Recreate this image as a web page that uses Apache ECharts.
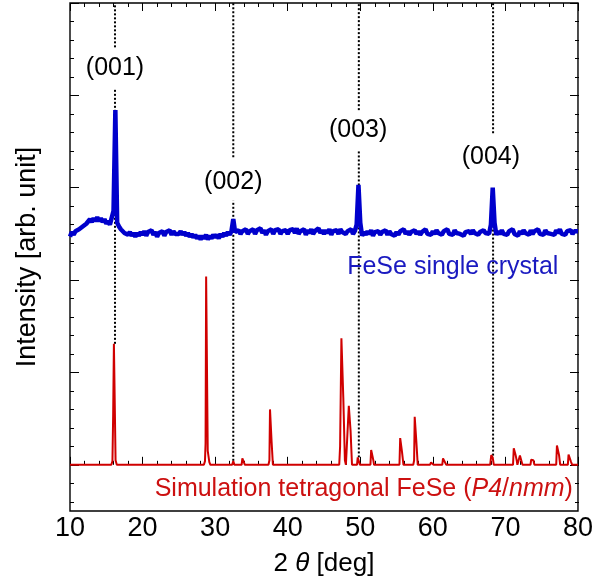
<!DOCTYPE html>
<html>
<head>
<meta charset="utf-8">
<script src="https://cdn.jsdelivr.net/npm/echarts@6/dist/echarts.min.js"></script>
<style>
  html, body { margin: 0; padding: 0; background: #fff; }
  #chart { width: 596px; height: 583px; }
</style>
</head>
<body>
<div id="chart"></div>
<script>
// measured XRD scan, FeSe single crystal (offset up), 0.25 deg steps from 10 deg
var blueStart = 10;
var blueStep = 0.25;
var blueIntensity = [
  2.47,2.52,2.49,2.53,2.51,2.55,2.54,2.58,2.57,2.61,2.62,2.66,2.63,2.67,2.64,2.68,2.64,2.67,2.63,2.66,
  2.61,2.64,2.60,2.62,2.75,3.84,2.62,2.58,2.55,2.56,2.51,2.53,2.49,2.52,2.48,2.51,2.47,2.51,2.48,2.52,
  2.49,2.53,2.48,2.52,2.50,2.54,2.49,2.52,2.47,2.51,2.50,2.53,2.48,2.52,2.51,2.54,2.49,2.53,2.50,2.52,
  2.50,2.53,2.49,2.52,2.48,2.51,2.47,2.50,2.46,2.49,2.45,2.48,2.44,2.48,2.45,2.49,2.44,2.48,2.45,2.49,
  2.46,2.49,2.45,2.50,2.47,2.51,2.48,2.52,2.49,2.53,2.66,2.52,2.50,2.54,2.50,2.53,2.51,2.55,2.50,2.53,
  2.51,2.55,2.50,2.54,2.52,2.56,2.51,2.54,2.49,2.53,2.51,2.55,2.50,2.54,2.52,2.55,2.50,2.53,2.51,2.54,
  2.50,2.54,2.52,2.55,2.51,2.56,2.50,2.53,2.52,2.55,2.49,2.54,2.51,2.55,2.50,2.53,2.52,2.56,2.51,2.54,
  2.50,2.54,2.51,2.55,2.49,2.53,2.51,2.54,2.50,2.55,2.52,2.54,2.50,2.53,2.51,2.55,2.50,2.53,2.60,3.03,
  2.62,2.48,2.52,2.49,2.53,2.50,2.54,2.48,2.52,2.50,2.53,2.49,2.52,2.51,2.54,2.49,2.53,2.50,2.52,2.48,
  2.52,2.49,2.53,2.51,2.55,2.50,2.53,2.49,2.52,2.51,2.54,2.50,2.53,2.49,2.52,2.51,2.55,2.50,2.52,2.49,
  2.53,2.50,2.54,2.51,2.52,2.49,2.53,2.51,2.55,2.50,2.52,2.49,2.54,2.51,2.53,2.50,2.52,2.48,2.52,2.50,
  2.53,2.50,2.54,2.51,2.53,2.49,2.52,2.50,2.54,2.51,2.53,2.50,2.60,3.00,2.62,2.49,2.53,2.50,2.54,2.50,
  2.52,2.49,2.53,2.51,2.55,2.50,2.52,2.48,2.53,2.50,2.54,2.51,2.52,2.49,2.54,2.50,2.53,2.51,2.55,2.50,
  2.52,2.49,2.54,2.51,2.53,2.50,2.52,2.49,2.54,2.51,2.55,2.50,2.52,2.49,2.53,2.51,2.54,2.50,2.53,2.51,2.53
];

// simulated pattern for tetragonal FeSe, [2theta, intensity]
var simPattern = [
  [10,0],
  [15.7,0],[15.85,0.04],[15.95,0.55],[16.05,1.31],[16.18,1.31],[16.28,0.05],[16.45,0],
  [28.45,0],[28.6,0.04],[28.68,0.23],[28.76,2.04],[28.9,2.04],[28.98,0.15],[29.1,0.15],[29.2,0.03],[29.35,0],
  [32.35,0],[32.5,0.04],[32.65,0],
  [33.65,0],[33.75,0.07],[34.0,0.06],[34.1,0],
  [37.35,0],[37.48,0.05],[37.56,0.6],[37.7,0.6],[37.78,0.25],[37.88,0.25],[37.96,0],
  [40.45,0],[40.6,0.02],[40.75,0],
  [47.1,0],[47.22,0.2],[47.32,0.2],[47.4,1.37],[47.58,1.37],[47.66,0.73],[47.78,0.73],[47.88,0.05],[48.02,0],
  [48.22,0],[48.32,0.48],[48.42,0.64],[48.58,0.64],[48.66,0.37],[48.76,0.37],[48.86,0],
  [49.55,0],[49.65,0.08],[49.85,0.08],[49.95,0],
  [51.4,0],[51.5,0.16],[51.7,0.16],[51.8,0.05],[51.9,0],
  [55.4,0],[55.5,0.29],[55.68,0.29],[55.75,0.14],[55.85,0.14],[55.95,0],
  [57.3,0],[57.42,0.05],[57.5,0.52],[57.65,0.52],[57.72,0.26],[57.82,0.26],[57.92,0],
  [59.6,0],[59.75,0.025],[59.95,0.025],[60.1,0],
  [61.3,0],[61.4,0.07],[61.65,0.06],[61.85,0],
  [65.1,0],[65.2,0.015],[65.3,0],
  [67.9,0],[68.05,0.105],[68.25,0.08],[68.4,0],
  [71.05,0],[71.15,0.18],[71.35,0.18],[71.42,0.1],[71.55,0.05],[71.65,0],
  [71.9,0],[72.0,0.10],[72.2,0.10],[72.35,0],
  [73.45,0],[73.55,0.055],[73.85,0.05],[74.0,0],
  [77.0,0],[77.1,0.21],[77.3,0.21],[77.4,0.1],[77.55,0],
  [78.6,0],[78.7,0.11],[78.9,0.09],[79.05,0.03],[79.2,0],
  [80,0]
];

// dotted guide lines: [2theta, from, to]
var guideSegments = [
  [16.2, 4.52, 5.0], [16.2, 1.31, 4.08],
  [32.5, 3.33, 5.0], [32.5, 0.0, 2.86],
  [49.8, 3.84, 5.0], [49.8, 0.08, 3.41],
  [68.3, 3.59, 5.0], [68.3, 0.1, 3.0]
];

var peakLabels = ['(001)', '(002)', '(003)', '(004)'];
var peakLabelPos = [[16.2, 4.29], [32.5, 3.06], [49.7, 3.62], [68.0, 3.33]];

var xTicks = [10, 20, 30, 40, 50, 60, 70, 80];

var font = 'Liberation Sans, Arial, sans-serif';
var plotTop = 3, plotBottom = 511, plotLeft = 70, plotRight = 579;
var W = 596, H = 583;
var yMin = -0.5, yMax = 5;
var pxPerUnit = (plotBottom - plotTop) / (yMax - yMin);

var blueData = blueIntensity.map(function (v, i) {
  return [blueStart + i * blueStep, v];
});

var gridBase = { left: plotLeft, right: W - plotRight, top: plotTop };

var series = [];
guideSegments.forEach(function (s) {
  series.push({
    type: 'line', xAxisIndex: 0, yAxisIndex: 0, showSymbol: false, silent: true, z: 1,
    lineStyle: { color: '#000', width: 2, type: [2, 2] },
    data: [[s[0], s[1]], [s[0], s[2]]]
  });
});
series.push({
  type: 'line', xAxisIndex: 0, yAxisIndex: 0, showSymbol: false, z: 3, sampling: null,
  lineStyle: { color: '#d00000', width: 2 },
  data: simPattern
});
series.push({
  type: 'line', xAxisIndex: 0, yAxisIndex: 0, showSymbol: false, z: 4,
  lineStyle: { color: '#0000cc', width: 4.5, join: 'bevel' },
  data: blueData
});
series.push({
  type: 'scatter', xAxisIndex: 0, yAxisIndex: 0, symbolSize: 0, silent: true, z: 5,
  itemStyle: { opacity: 1 },
  label: { show: true, position: 'inside', color: '#000', fontSize: 25, fontFamily: font,
    textBorderWidth: 0, formatter: function (p) { return p.data.name; } },
  data: peakLabels.map(function (t, i) { return { name: t, value: peakLabelPos[i] }; })
});
series.push({
  type: 'scatter', xAxisIndex: 0, yAxisIndex: 0, symbolSize: 0, silent: true, z: 5,
  itemStyle: { opacity: 1 },
  label: { show: true, position: 'left', distance: 0, fontSize: 25, fontFamily: font,
    formatter: function (p) { return p.data.name; },
    rich: {
      i: { fontStyle: 'italic', fontSize: 25, fontFamily: font, color: '#cc1010' }
    }
  },
  data: [
    { name: 'FeSe single crystal', value: [77.3, 2.14], label: { color: '#1a1ac0' } },
    { name: 'Simulation tetragonal FeSe ({i|P4}/{i|nmm})', value: [79.3, -0.26], label: { color: '#cc1010' } }
  ]
});

var tickX = function (pos, labels) {
  return {
    type: 'value', gridIndex: 0, min: 10, max: 80, interval: 10, position: pos,
    axisLine: { show: false },
    axisTick: { show: true, inside: true, length: 8, lineStyle: { color: '#000', width: 1 } },
    minorTick: { show: true, splitNumber: 5, length: 4, lineStyle: { color: '#000', width: 1 } },
    splitLine: { show: false },
    axisLabel: { show: labels, color: '#000', fontSize: 27, fontFamily: font, margin: 4,
      formatter: function (v) { return xTicks.indexOf(v) >= 0 ? String(v) : ''; } },
    name: labels ? '2 {i|θ} [deg]' : '', nameLocation: 'middle', nameGap: 40,
    nameTextStyle: { color: '#000', fontSize: 26, fontFamily: font,
      rich: { i: { fontStyle: 'italic', fontSize: 26, fontFamily: font, color: '#000' } } }
  };
};
var tickY = function (grid, pos, min, interval, len) {
  return {
    type: 'value', gridIndex: grid, min: min, max: yMax, interval: interval, position: pos,
    axisLine: { show: false }, axisLabel: { show: false }, splitLine: { show: false },
    axisTick: { show: true, inside: true, length: len, lineStyle: { color: '#000', width: 1 } }
  };
};
var hiddenX = function (grid) {
  return { type: 'value', gridIndex: grid, min: 10, max: 80, show: false };
};

var option = {
  animation: false,
  backgroundColor: '#fff',
  grid: [
    Object.assign({ height: plotBottom - plotTop, show: true, borderColor: '#000', borderWidth: 1.4,
      backgroundColor: 'transparent' }, gridBase),
    Object.assign({ height: (yMax + 0.4) * pxPerUnit }, gridBase),
    Object.assign({ height: yMax * pxPerUnit }, gridBase)
  ],
  xAxis: [tickX('bottom', true), tickX('top', false), hiddenX(1), hiddenX(2)],
  yAxis: [
    { type: 'value', gridIndex: 0, min: yMin, max: yMax, axisLine: { show: false },
      axisTick: { show: false }, axisLabel: { show: false }, splitLine: { show: false },
      name: 'Intensity [arb. unit]', nameLocation: 'middle', nameGap: 29,
      nameTextStyle: { color: '#000', fontSize: 27, fontFamily: font } },
    tickY(1, 'left', -0.4, 0.2, 4),
    tickY(1, 'right', -0.4, 0.2, 4),
    tickY(2, 'left', 0, 1, 9),
    tickY(2, 'right', 0, 1, 9)
  ],
  series: series
};

var myChart = echarts.init(document.getElementById('chart'), null, { renderer: 'canvas' });
myChart.setOption(option);
</script>
</body>
</html>
